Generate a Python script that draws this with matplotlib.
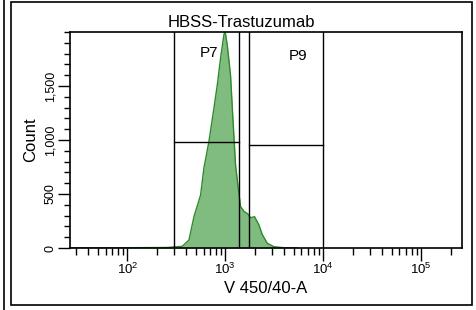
import numpy as np
import matplotlib
matplotlib.use("Agg")
import matplotlib.pyplot as plt
from matplotlib.ticker import LogLocator, FixedLocator, FixedFormatter, MultipleLocator
from matplotlib.lines import Line2D
from matplotlib.patches import Rectangle

plt.rcParams['font.family'] = ['Liberation Sans', 'DejaVu Sans']
plt.rcParams['mathtext.fontset'] = 'custom'
plt.rcParams['mathtext.rm'] = 'Liberation Sans'

# histogram (V 450/40-A value, count)
v450 = [26, 60, 120, 200, 260, 299, 364, 426, 479, 560, 605, 681, 766, 829, 895,
        968, 995, 1048, 1132, 1207, 1274, 1345, 1432, 1549, 1701, 1812, 1991,
        2203, 2387, 2685, 3137, 3937, 5472]
counts = [3, 2, 3, 4, 5, 10, 15, 74, 290, 490, 738, 985, 1293, 1509, 1756,
          1972, 2010, 1880, 1600, 1139, 768, 583, 385, 340, 315, 280, 290,
          215, 125, 44, 12, 3, 1]

y_ticks = [0, 500, 1000, 1500]
y_labels = ["0", "500", "1,000", "1,500"]

# interval gates: (name, low, high, bar level)
gates = [("P7", 300, 1368, 985), ("P9", 1730, 10000, 955)]
title = "HBSS-Trastuzumab"

fig = plt.figure(figsize=(4.77, 3.10), dpi=100)
ax = fig.add_axes([0.1468, 0.2, 0.822, 0.6968])

ax.fill_between(v450, counts, color="#80bb80", lw=0)
ax.plot(v450, counts, color="#2b8a2b", lw=1.0)

for name, lo, hi, lvl in gates:
    ax.axvline(lo, color="black", lw=1.0)
    ax.axvline(hi, color="black", lw=1.0)
    ax.plot([lo, hi], [lvl, lvl], color="black", lw=1.0)
ax.text(10 ** 2.83, 1810, "P7", fontsize=11, ha="center", va="center")
ax.text(10 ** 3.74, 1780, "P9", fontsize=11, ha="center", va="center")

ax.set_xscale("log")
ax.set_xlim(26, 262144)
ax.set_ylim(0, 2000)
ax.xaxis.set_major_locator(LogLocator(base=10, subs=(1.0,)))
ax.xaxis.set_minor_locator(LogLocator(base=10, subs=np.arange(2, 10), numticks=20))
ax.yaxis.set_major_locator(FixedLocator(y_ticks))
ax.yaxis.set_major_formatter(FixedFormatter(y_labels))
ax.yaxis.set_minor_locator(MultipleLocator(100))

ax.tick_params(axis="x", which="major", length=9, width=1, labelsize=9.5, pad=1)
ax.tick_params(axis="x", which="minor", length=5, width=1)
ax.tick_params(axis="y", which="major", length=9, width=1, labelsize=9, pad=1)
ax.tick_params(axis="y", which="minor", length=4, width=1)
for lab in ax.get_yticklabels():
    lab.set_rotation(90)
    lab.set_va("center")

for s in ax.spines.values():
    s.set_linewidth(1.2)

ax.set_xlabel("V 450/40-A", fontsize=12, labelpad=3)
ax.set_ylabel("Count", fontsize=12, labelpad=4)
fig.text(0.505, 0.929, title, fontsize=12, ha="center", va="center")

# outer frames
fig.add_artist(Line2D([4 / 477, 4 / 477], [0, 1], color="black", lw=1.2))
fig.add_artist(Rectangle((11 / 477, 5 / 310), 461 / 477, 303 / 310, fill=False,
                         edgecolor="black", lw=1.2, transform=fig.transFigure))

fig.savefig("out.png", dpi=100)
